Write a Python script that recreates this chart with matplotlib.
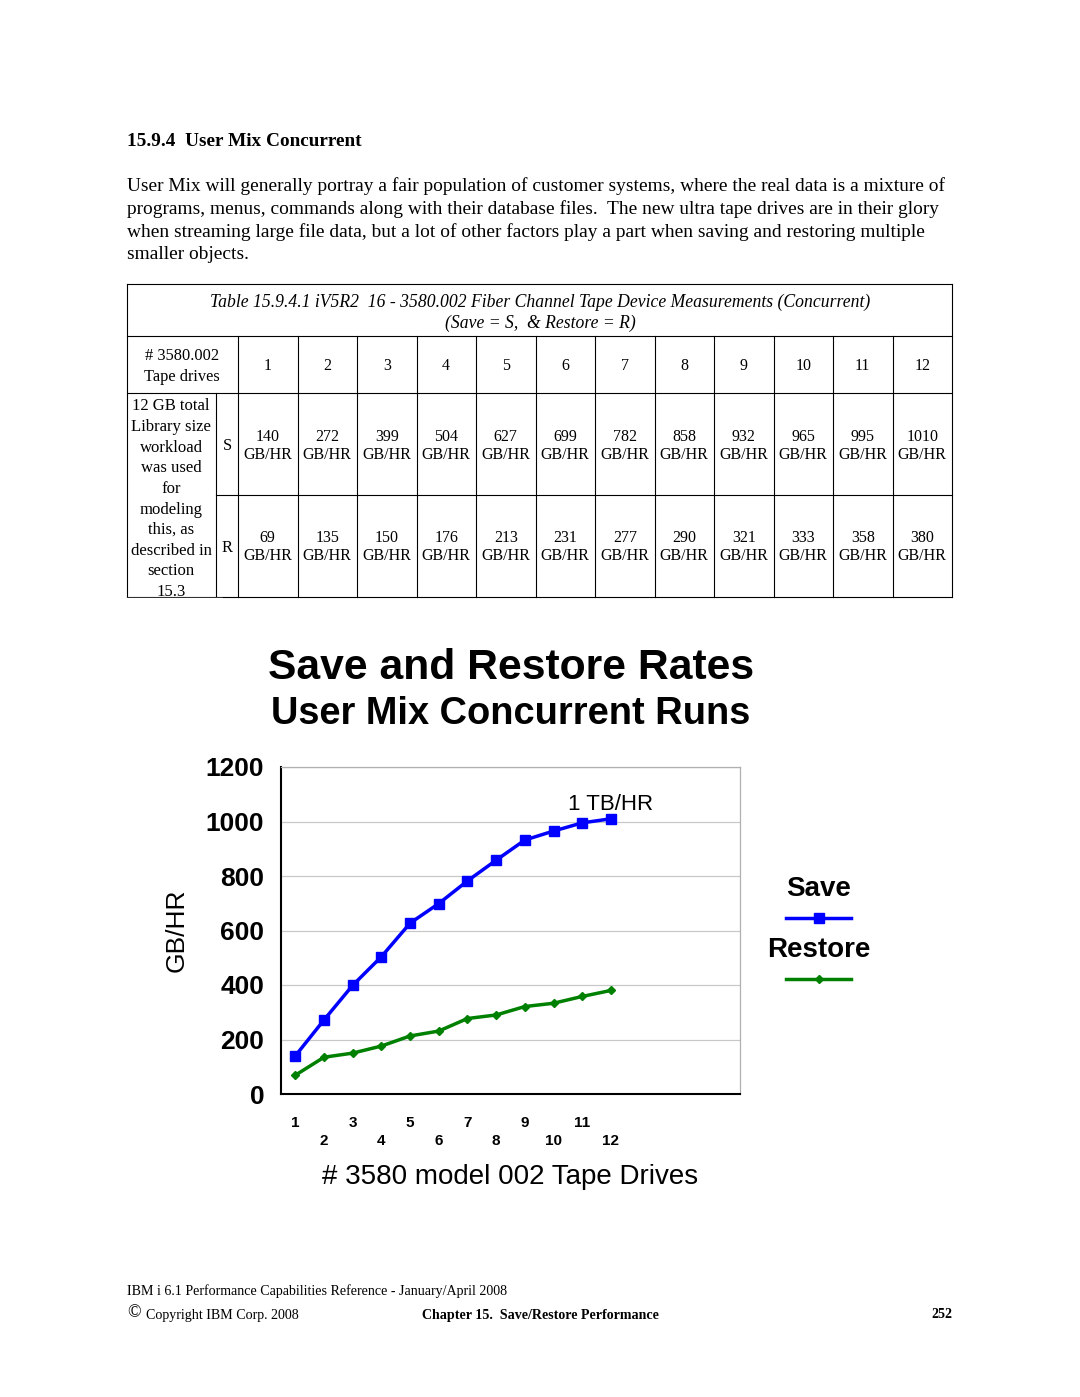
import matplotlib
matplotlib.use("Agg")
import matplotlib.pyplot as plt
from matplotlib.lines import Line2D

# data (table 15.9.4.1)
drives = [1, 2, 3, 4, 5, 6, 7, 8, 9, 10, 11, 12]
save_rate = [140, 272, 399, 504, 627, 699, 782, 858, 932, 965, 995, 1010]
restore_rate = [69, 135, 150, 176, 213, 231, 277, 290, 321, 333, 358, 380]
yticks = [0, 200, 400, 600, 800, 1000, 1200]

para = ["User Mix will generally portray a fair population of customer systems, where the real data is a mixture of",
        "programs, menus, commands along with their database files.  The new ultra tape drives are in their glory",
        "when streaming large file data, but a lot of other factors play a part when saving and restoring multiple",
        "smaller objects."]
left_cell = ["12 GB total", "Library size", "workload", "was used", "for", "modeling",
             "this, as", "described in", "section", "15.3"]

SERIF = "Liberation Serif"
SANS = "Liberation Sans"
W, H = 1080, 1397

fig = plt.figure(figsize=(10.8, 13.97), dpi=100)
fig.patch.set_facecolor("white")

# page overlay in pixel coords
pg = fig.add_axes([0, 0, 1, 1])
pg.set_xlim(0, W)
pg.set_ylim(H, 0)
pg.axis("off")

def txt(x, y, s, size=13.5, ha="left", weight="normal", style="normal", family=SERIF, **kw):
    pg.text(x, y, s, fontsize=size, ha=ha, va="center", fontweight=weight,
            fontstyle=style, family=family, **kw)

def ln(x0, y0, x1, y1, c="black", lw=0.8):
    pg.add_line(Line2D([x0, x1], [y0, y1], color=c, lw=lw))

# heading + paragraph
txt(127, 141.5, "15.9.4  User Mix Concurrent", size=13.9, weight="bold")
for i, s in enumerate(para):
    txt(127, 186.5 + i * 22.6, s, size=13.95)

# table
tl, tr = 127, 952
rows = [284, 336, 393, 495, 597]
col0, col1 = 216, 238
cw = (tr - col1) / len(drives)
for y in (rows[0], rows[1], rows[2], rows[4]):
    ln(tl, y, tr, y)
ln(col0, rows[3], tr, rows[3])
ln(tl, rows[0], tl, rows[-1])
ln(tr, rows[0], tr, rows[-1])
for i in range(len(drives)):
    x = col1 + i * cw
    ln(x, rows[1], x, rows[-1])
ln(col0, rows[2], col0, rows[-1])

txt(540, 302, "Table 15.9.4.1 iV5R2  16 - 3580.002 Fiber Channel Tape Device Measurements (Concurrent)",
    size=12.7, ha="center", style="italic")
txt(540, 323, "(Save = S,  & Restore = R)", size=12.7, ha="center", style="italic")
txt(182, 356, "# 3580.002", size=11.8, ha="center")
txt(182, 377, "Tape drives", size=11.8, ha="center")
for i, d in enumerate(drives):
    cx = col1 + (i + 0.5) * cw
    txt(cx, 366, str(d), size=11.5, ha="center")
    txt(cx, 437, str(save_rate[i]), size=11.5, ha="center")
    txt(cx, 455, "GB/HR", size=11.5, ha="center")
    txt(cx, 538, str(restore_rate[i]), size=11.5, ha="center")
    txt(cx, 556, "GB/HR", size=11.5, ha="center")
txt(227, 446, "S", size=11.8, ha="center")
txt(227, 548, "R", size=11.8, ha="center")
for i, s in enumerate(left_cell):
    txt(171, 406.5 + i * 20.6, s, size=12, ha="center")
# last line of the merged cell is cut by the table border
pg.add_patch(plt.Rectangle((tl - 5, rows[-1] + 0.6), 100, 14, color="white", zorder=3))

# chart titles
txt(511, 668, "Save and Restore Rates", size=30.7, ha="center", weight="bold", family=SANS)
txt(511, 714, "User Mix Concurrent Runs", size=27.4, ha="center", weight="bold", family=SANS)
txt(177, 930, "GB/HR", size=19, ha="center", family=SANS, rotation=90)
txt(510, 1177, "# 3580 model 002 Tape Drives", size=20, ha="center", family=SANS)

# chart
ax = fig.add_axes([281 / W, 1 - 1094 / H, (740 - 281) / W, (1094 - 767) / H])
ax.plot(drives, save_rate, color="#0000ff", lw=2.5, marker="s", ms=7.5, label="Save")
ax.plot(drives, restore_rate, color="#008000", lw=2.5, marker="D", ms=4.5, label="Restore")
ax.set_xlim(0.5, 16.5)
ax.set_ylim(0, 1200)
ax.set_yticks(yticks)
ax.set_yticklabels([str(v) for v in yticks], fontsize=19, fontweight="bold", family=SANS)
ax.set_xticks(drives)
ax.set_xticklabels([str(d) if d % 2 else "\n" + str(d) for d in drives],
                   fontsize=11, fontweight="bold", family=SANS, linespacing=1.3)
ax.tick_params(axis="y", length=0, pad=12)
ax.tick_params(axis="x", length=0, pad=16)
ax.grid(axis="y", color="#c8c8c8", lw=0.9)
ax.set_axisbelow(True)
for s in ("top", "right"):
    ax.spines[s].set_color("#b0b0b0")
    ax.spines[s].set_linewidth(0.9)
for s in ("left", "bottom"):
    ax.spines[s].set_linewidth(1.5)
ax.annotate("1 TB/HR", (drives[-1], save_rate[-1]), xytext=(0, 2.5), textcoords="offset points",
            ha="center", va="bottom", fontsize=16, family=SANS)

# legend (label above each sample line)
txt(819, 889, "Save", size=20, ha="center", weight="bold", family=SANS)
pg.add_line(Line2D([786, 851], [918, 918], color="#0000ff", lw=2.5))
pg.plot([818.5], [918], marker="s", ms=7, color="#0000ff")
txt(819, 950, "Restore", size=20, ha="center", weight="bold", family=SANS)
pg.add_line(Line2D([786, 851], [979, 979], color="#008000", lw=2.5))
pg.plot([818.5], [979], marker="D", ms=4.5, color="#008000")

# footer
txt(127, 1291, "IBM i 6.1 Performance Capabilities Reference - January/April 2008", size=10.1)
txt(127, 1313, "\u00a9", size=13)
txt(146, 1315, "Copyright IBM Corp. 2008", size=10.1)
txt(540, 1315, "Chapter 15.  Save/Restore Performance", size=10.1, ha="center", weight="bold")
txt(952, 1315, "252", size=10.1, ha="right", weight="bold")

fig.savefig("out.png", dpi=100, facecolor="white")
